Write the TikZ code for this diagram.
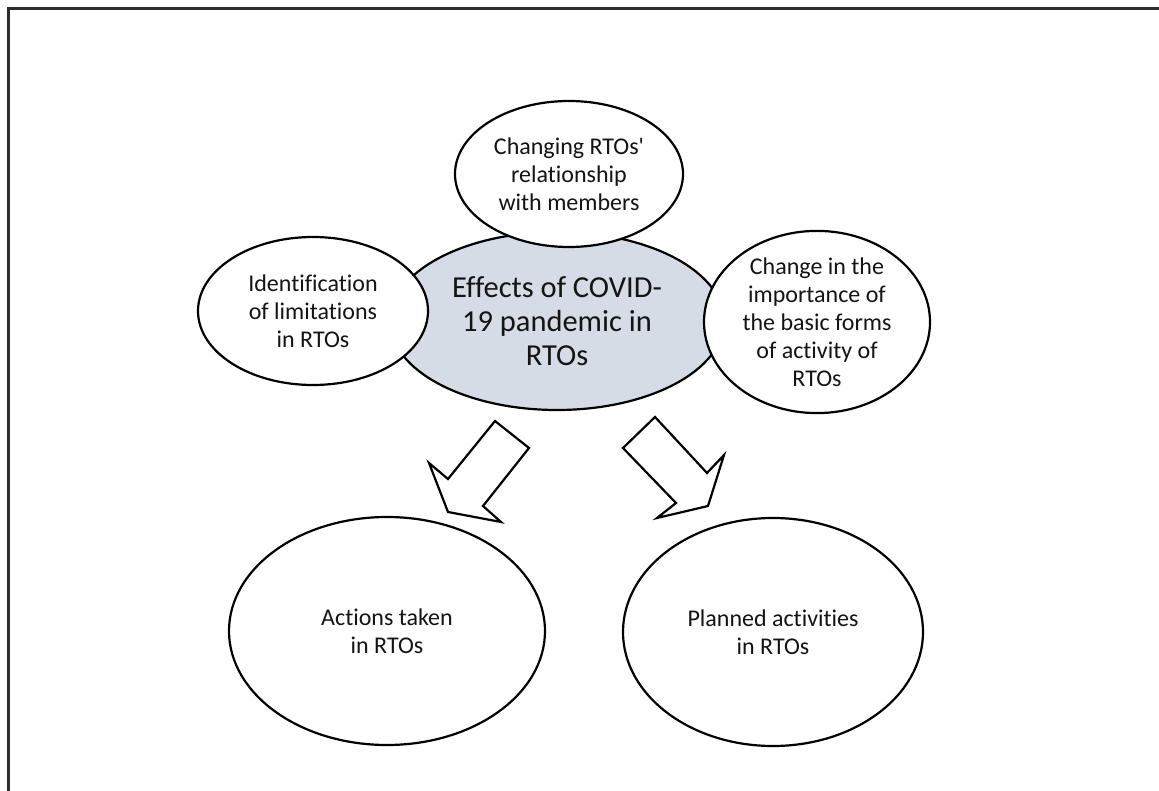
\documentclass[tikz,border=0pt]{standalone}
\usepackage{fontspec}
\setmainfont{Carlito}[Ligatures={NoCommon}]
\usetikzlibrary{shapes.geometric}
\definecolor{hubfill}{RGB}{214,220,229}
\definecolor{framegray}{RGB}{45,45,45}
\definecolor{textgray}{RGB}{20,20,20}
\begin{document}
\begin{tikzpicture}[x=1pt,y=-1pt,
  bubble/.style={ellipse, draw=black, line width=2.2pt, fill=white, inner sep=0pt, align=center, text=textgray, font=\fontsize{24}{28}\selectfont},
  hub/.style={bubble, fill=hubfill, font=\fontsize{30.5}{34}\selectfont},
  blockarrow/.style={draw=black, line width=2.2pt, fill=white, line join=miter}]
\useasboundingbox (0,0) rectangle (1159,791);
\draw[framegray, line width=3pt] (8,791) -- (8,9) -- (1159,9);
% central hub
\node[hub, minimum width=334pt, minimum height=178pt] (hub) at (557,321) {Effects of COVID-\\19 pandemic in\\RTOs};
% satellite ellipses drawn over the hub
\node[bubble, minimum width=228pt, minimum height=146pt] (rel) at (569,174) {Changing RTOs\textquotesingle\\relationship\\with members};
\node[bubble, minimum width=230pt, minimum height=148pt] (lim) at (313,311) {Identification\\of limitations\\in RTOs};
\node[bubble, minimum width=226pt, minimum height=160pt] (forms) at (817,322) {Change in the\\importance of\\the basic forms\\of activity of\\RTOs};
% bottom ellipses
\node[bubble, minimum width=316pt, minimum height=228pt] (taken) at (387,631) {Actions taken\\in RTOs};
\node[bubble, minimum width=300pt, minimum height=228pt] (planned) at (773,632) {Planned activities\\in RTOs};
% block arrows
\draw[blockarrow] (495,421) -- (529,448) -- (483,506) -- (501,522) -- (448,512) -- (429,463) -- (448,479) -- cycle;
\draw[blockarrow] (655,417) -- (707,473) -- (724,455) -- (708,506) -- (657,518) -- (676,503) -- (623,448) -- cycle;
\end{tikzpicture}
\end{document}
